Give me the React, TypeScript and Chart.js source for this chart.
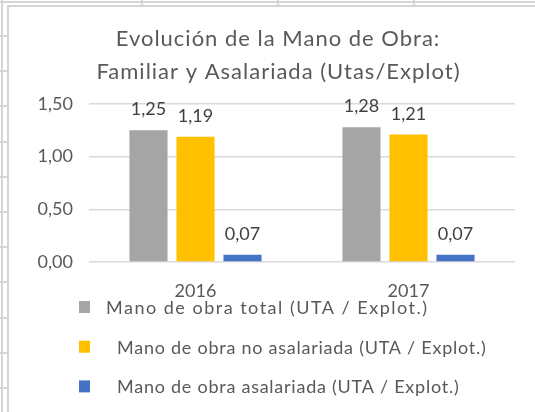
import React, { useEffect, useRef } from "react";
import { Chart, registerables } from "chart.js";

Chart.register(...registerables);

// ---- Data ----
const categories = ["2016", "2017"];
const seriesLabels = [
  "Mano de obra total (UTA / Explot.)",
  "Mano de obra no asalariada (UTA / Explot.)",
  "Mano de obra asalariada (UTA / Explot.)",
];
const totalValues = [1.25, 1.28];
const noAsalariadaValues = [1.19, 1.21];
const asalariadaValues = [0.07, 0.07];
const seriesColors = ["#A5A5A5", "#FFC000", "#4472C4"];
const titleLines = ["Evolución de la Mano de Obra:", "Familiar y Asalariada (Utas/Explot)"];
const yMin = 0;
const yMax = 1.5;
const yStep = 0.5;

const FONT = "Lato";
const fmt = (v: number) => v.toFixed(2).replace(".", ",");

const titlePlugin = {
  id: "customTitle",
  afterDraw(chart: any) {
    const ctx = chart.ctx;
    ctx.save();
    ctx.fillStyle = "#595959";
    ctx.font = `22px ${FONT}`;
    ctx.letterSpacing = "1px";
    ctx.textAlign = "center";
    ctx.textBaseline = "alphabetic";
    ctx.fillText(titleLines[0], 278, 46);
    ctx.fillText(titleLines[1], 278.5, 78.5);
    ctx.letterSpacing = "0px";
    ctx.restore();
  },
};

const valueLabelPlugin = {
  id: "valueLabels",
  afterDatasetsDraw(chart: any) {
    const ctx = chart.ctx;
    ctx.save();
    ctx.fillStyle = "#404040";
    ctx.font = `18px ${FONT}`;
    ctx.textAlign = "center";
    ctx.textBaseline = "alphabetic";
    chart.data.datasets.forEach((ds: any, i: number) => {
      const meta = chart.getDatasetMeta(i);
      meta.data.forEach((bar: any, j: number) => {
        ctx.fillText(fmt(ds.data[j]), bar.x, bar.y - 15);
      });
    });
    ctx.restore();
  },
};

const legendSpacing = ["1.5px", "0.75px", "0.75px"];

const legendPlugin = {
  id: "customLegend",
  afterDraw(chart: any) {
    const ctx = chart.ctx;
    ctx.save();
    ctx.font = `18px ${FONT}`;
    ctx.textAlign = "left";
    ctx.textBaseline = "alphabetic";
    chart.data.datasets.forEach((ds: any, i: number) => {
      const cy = 307 + i * 39.7;
      ctx.fillStyle = ds.backgroundColor;
      ctx.fillRect(79, cy - 6, 11, 12);
      ctx.fillStyle = "#595959";
      ctx.letterSpacing = legendSpacing[i];
      ctx.fillText(ds.label, i === 0 ? 106 : 117, cy + 7);
    });
    ctx.letterSpacing = "0px";
    ctx.restore();
  },
};

function ChartCanvas() {
  const ref = useRef<HTMLCanvasElement | null>(null);
  useEffect(() => {
    if (!ref.current) return;
    const chart = new Chart(ref.current, {
      type: "bar",
      data: {
        labels: categories,
        datasets: [
          { label: seriesLabels[0], data: totalValues, backgroundColor: seriesColors[0] },
          { label: seriesLabels[1], data: noAsalariadaValues, backgroundColor: seriesColors[1] },
          { label: seriesLabels[2], data: asalariadaValues, backgroundColor: seriesColors[2] },
        ],
      },
      options: {
        animation: false,
        responsive: false,
        devicePixelRatio: 1,
        layout: { padding: { left: 20, right: 20, top: 104, bottom: 110 } },
        datasets: {
          bar: { categoryPercentage: 0.662, barPercentage: 0.81 },
        },
        plugins: {
          legend: { display: false },
          title: { display: false },
          tooltip: { enabled: false },
        },
        scales: {
          x: {
            grid: { display: false, drawTicks: false },
            border: { display: false },
            ticks: { color: "#595959", font: { family: FONT, size: 18 }, padding: 18 },
            afterFit(scale: any) {
              scale.height = 40;
            },
          },
          y: {
            min: yMin,
            max: yMax,
            grid: { color: "#d9d9d9", lineWidth: 1.5, drawTicks: false },
            border: { display: false },
            ticks: {
              stepSize: yStep,
              color: "#595959",
              font: { family: FONT, size: 18 },
              padding: 16,
              callback: (v: any) => fmt(Number(v)),
            },
            afterFit(scale: any) {
              scale.width = 69;
            },
          },
        },
      },
      plugins: [titlePlugin, valueLabelPlugin, legendPlugin],
    });
    if ((document as any).fonts && (document as any).fonts.load) {
      (document as any).fonts.load(`18px ${FONT}`).then(() => chart.update()).catch(() => {});
    }
    return () => chart.destroy();
  }, []);
  return (
    <canvas
      ref={ref}
      width={535}
      height={412}
      style={{ position: "absolute", left: 0, top: 0, width: 535, height: 412, display: "block" }}
    />
  );
}

const LINE = "#d5d5d5";
const rowLines = [35, 70, 105, 140.5, 176, 211, 246, 281, 316.5, 351.5, 387];
const colLines = [141, 277, 413];

export default function App() {
  useEffect(() => {
    document.body.style.margin = "0";
  }, []);
  const line = (s: React.CSSProperties, k: string) => (
    <div key={k} style={{ position: "absolute", background: LINE, ...s }} />
  );
  return (
    <div style={{ position: "relative", width: 535, height: 412, overflow: "hidden", background: "#fff" }}>
      {line({ left: 1, top: 0, width: 2, height: 412 }, "v0")}
      {line({ left: 0, top: 1, width: 535, height: 2 }, "h0")}
      {rowLines.map((y, i) => line({ left: 0, top: Math.round(y), width: 8, height: 2 }, "r" + i))}
      {colLines.map((x, i) => line({ left: x, top: 0, width: 2, height: 6 }, "c" + i))}
      {line({ left: 7, top: 5, width: 2, height: 407 }, "bv")}
      {line({ left: 7, top: 5, width: 528, height: 2 }, "bh")}
      <ChartCanvas />
    </div>
  );
}
